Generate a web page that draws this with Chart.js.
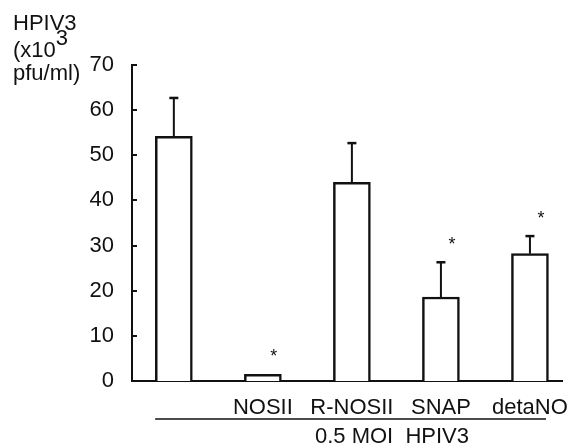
<!DOCTYPE html>
<html><head><meta charset="utf-8">
<script src="https://cdn.jsdelivr.net/npm/chart.js@4/dist/chart.umd.min.js"></script>
<style>html,body{margin:0;padding:0;background:#fff}#wrap{width:578px;height:447px}</style>
</head><body><div id="wrap"><canvas id="c" width="578" height="447"></canvas></div>
<script>
const categories = ["", "NOSII", "R-NOSII", "SNAP", "detaNO"];
const means = [54.2, 1.5, 44.0, 18.6, 28.2];
const errors = [8.5, 0, 8.7, 7.7, 3.9];
const significant = [false, true, false, true, true];
const yTicks = [0, 10, 20, 30, 40, 50, 60, 70];
const groupLabel = "0.5 MOI  HPIV3";
const yTitle = ["HPIV3", "(x10", "pfu/ml)"];

const FONT = '"Liberation Sans", Arial, sans-serif';
const INK = '#111';

const extras = {
  id: 'extras',
  afterDatasetsDraw(chart) {
    const ctx = chart.ctx, y = chart.scales.y, x = chart.scales.x;
    const meta = chart.getDatasetMeta(0);
    ctx.save();
    ctx.strokeStyle = INK; ctx.fillStyle = INK; ctx.lineWidth = 2;
    // y tick marks pointing inward
    yTicks.forEach(v => {
      const py = Math.round(y.getPixelForValue(v));
      ctx.beginPath(); ctx.moveTo(chart.chartArea.left, py); ctx.lineTo(chart.chartArea.left + 5, py); ctx.stroke();
    });
    // error bars + stars
    meta.data.forEach((bar, i) => {
      const top = y.getPixelForValue(means[i]);
      const et = y.getPixelForValue(means[i] + errors[i]);
      if (errors[i] > 0) {
        ctx.beginPath(); ctx.moveTo(bar.x, top); ctx.lineTo(bar.x, et); ctx.stroke();
        ctx.lineWidth = 2.5;
        ctx.beginPath(); ctx.moveTo(bar.x - 4.5, et); ctx.lineTo(bar.x + 4.5, et); ctx.stroke();
        ctx.lineWidth = 2;
      }
      if (significant[i]) {
        ctx.font = '18px ' + FONT; ctx.textAlign = 'center'; ctx.textBaseline = 'middle';
        ctx.fillText('*', bar.x + 11, et - 17);
      }
    });
    // group line + label
    const l = x.getPixelForValue(-0.21), r = x.getPixelForValue(4.18);
    ctx.lineWidth = 1.5;
    ctx.beginPath(); ctx.moveTo(l, 419); ctx.lineTo(r, 419); ctx.stroke();
    ctx.font = '22px ' + FONT; ctx.textAlign = 'center'; ctx.textBaseline = 'alphabetic';
    ctx.fillText(groupLabel, x.getPixelForValue(2.45), 443);
    // y title
    ctx.textAlign = 'left';
    ctx.fillText(yTitle[0], 13, 30);
    ctx.fillText(yTitle[1], 13, 57);
    const w = ctx.measureText(yTitle[1]).width;
    ctx.fillText('3', 13 + w, 45);
    ctx.fillText(yTitle[2], 13, 80);
    ctx.restore();
  }
};

new Chart(document.getElementById('c'), {
  type: 'bar',
  data: {
    datasets: [{
      data: means.map((v, i) => ({x: i, y: v})),
      backgroundColor: '#fff',
      borderColor: INK,
      borderWidth: 2.5,
      borderSkipped: 'bottom',
      barThickness: 37
    }]
  },
  options: {
    responsive: false,
    animation: false,
    events: [],
    layout: {padding: {left: 0, right: 16, top: 65, bottom: 0}},
    plugins: {legend: {display: false}, tooltip: {enabled: false}},
    scales: {
      x: {
        type: 'linear', min: -0.47, max: 4.36, offset: false,
        afterBuildTicks: s => { s.ticks = categories.map((_, i) => ({value: i})); },
        afterFit: s => { s.height = 66; },
        grid: {display: false},
        border: {display: true, color: INK, width: 2},
        ticks: {callback: v => categories[v] || '', color: INK, font: {family: FONT, size: 22}, padding: 6, maxRotation: 0, autoSkip: false}
      },
      y: {
        min: 0, max: 70,
        afterBuildTicks: s => { s.ticks = yTicks.map(v => ({value: v})); },
        afterFit: s => { s.width = 132; },
        grid: {display: false},
        border: {display: true, color: INK, width: 2},
        ticks: {color: INK, font: {family: FONT, size: 22}, padding: 10}
      }
    }
  },
  plugins: [extras]
});
</script></body></html>
